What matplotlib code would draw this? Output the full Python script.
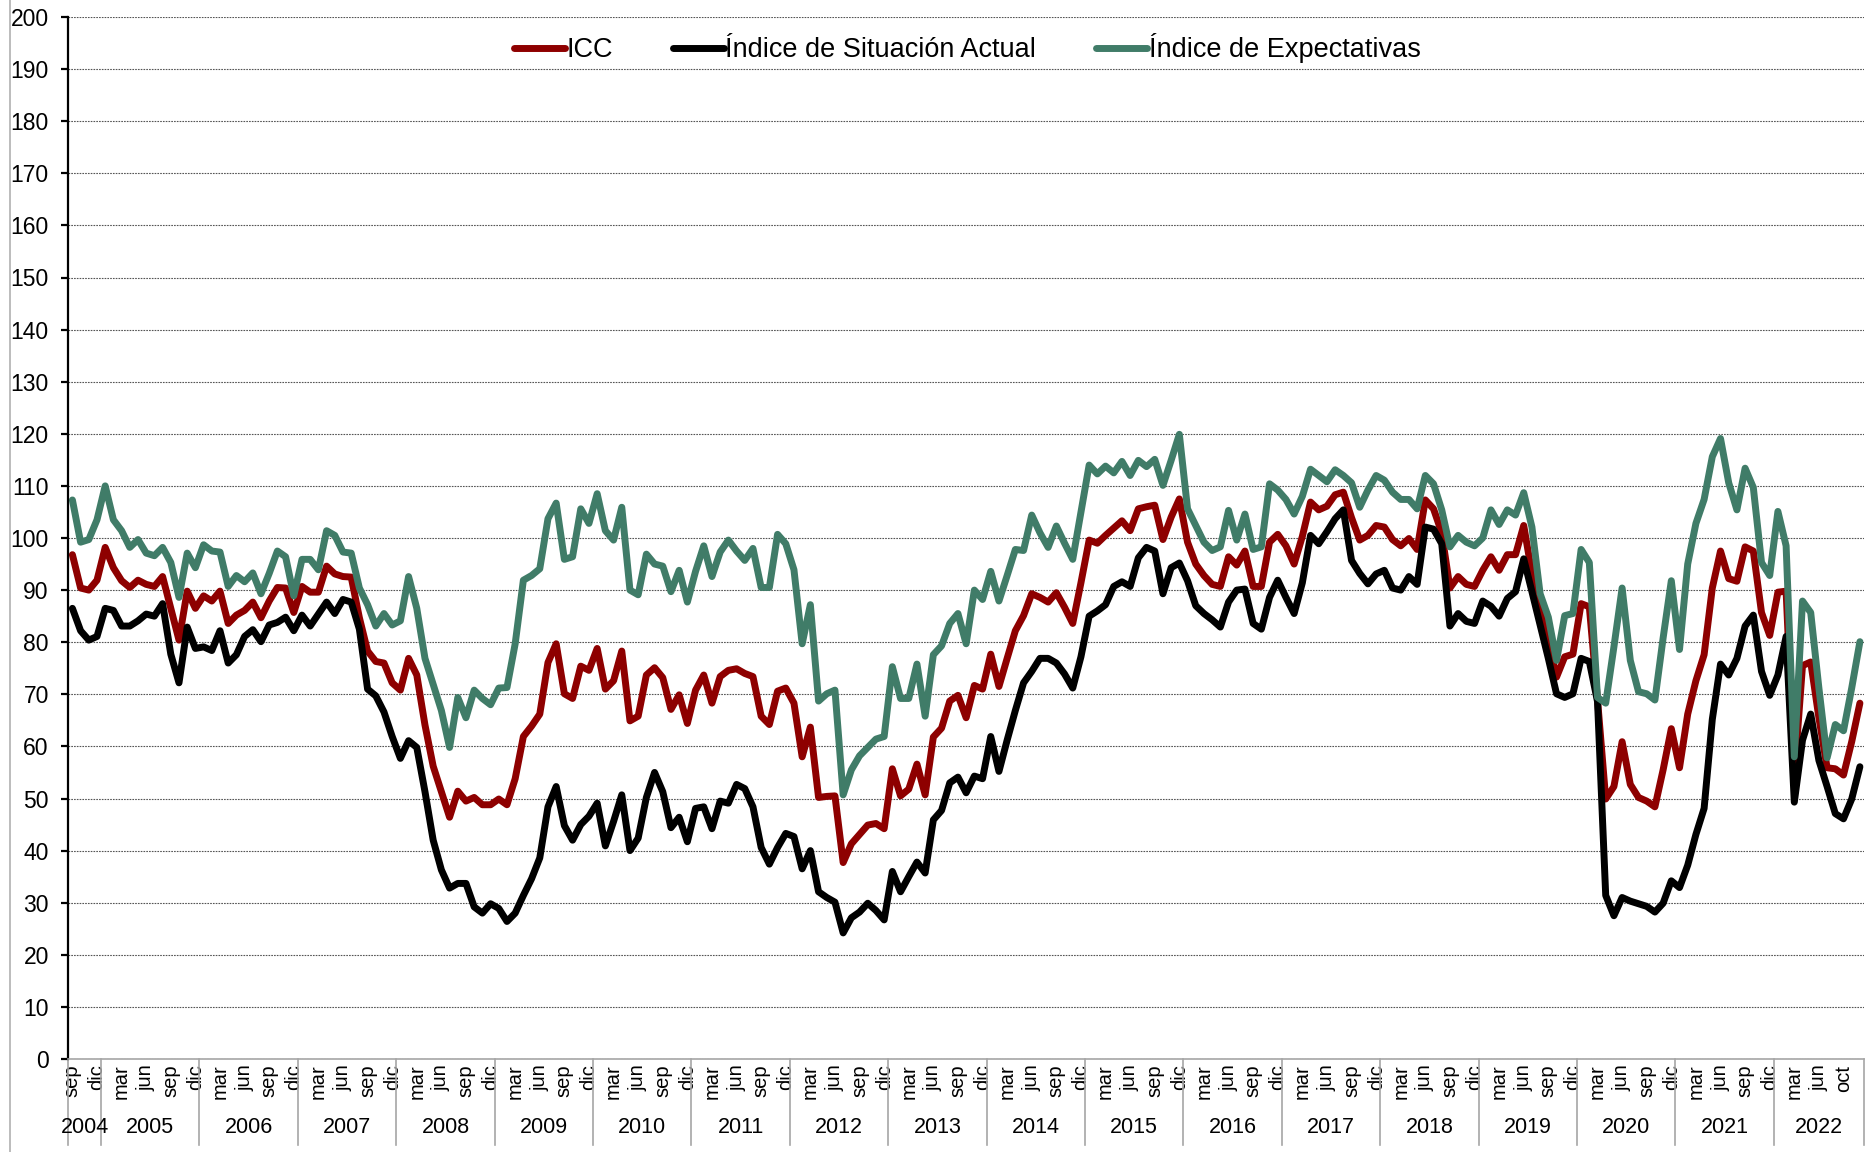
import matplotlib
matplotlib.use("Agg")
import matplotlib.pyplot as plt
import matplotlib.transforms as mtransforms
from matplotlib.lines import Line2D
import numpy as np

# Series mensuales, sep-2004 a nov-2022
icc = [
    96.8, 90.4, 90.0, 91.9, 98.2, 94.3, 91.8, 90.5, 91.9, 91.1, 90.7, 92.6, 86.5, 80.4, 89.8, 86.5,
    88.9, 87.9, 89.8, 83.6, 85.2, 86.1, 87.7, 84.7, 87.9, 90.5, 90.4,
    85.7, 90.7, 89.6, 89.6, 94.6, 93.1, 92.6, 92.5, 84.7, 78.3, 76.3, 76.0, 72.2, 70.8, 76.9, 73.7,
    64.1, 56.2, 51.3, 46.4, 51.4, 49.5, 50.2, 48.8, 48.8, 49.9, 48.8,
    53.8, 61.9, 63.9, 66.2, 76.1, 79.7, 70.1, 69.2, 75.4, 74.6, 78.8, 71.0, 72.6, 78.3, 64.9, 65.8,
    73.7, 75.1, 73.2, 67.1, 69.9, 64.4, 70.8, 73.7, 68.3, 73.4, 74.6, 74.9,
    74.0, 73.4, 65.8, 64.2, 70.6, 71.2, 68.3, 58.0, 63.7, 50.2, 50.4, 50.5, 37.7, 41.3, 43.1, 44.9,
    45.2, 44.2, 55.7, 50.5, 51.8, 56.6, 50.7, 61.8, 63.5, 68.7, 69.8,
    65.5, 71.7, 71.0, 77.7, 71.5, 76.9, 82.2, 85.1, 89.3, 88.6, 87.7, 89.5, 86.7, 83.6, 91.4, 99.6,
    99.0, 100.5, 101.9, 103.3, 101.4, 105.6, 106.0, 106.3, 99.7, 104.0, 107.5,
    99.2, 95.0, 92.8, 91.1, 90.7, 96.4, 94.8, 97.5, 90.7, 90.7, 99.2, 100.7, 98.5, 95.0, 100.3, 106.9,
    105.4, 106.1, 108.3, 108.8, 103.9, 99.6, 100.5, 102.4, 102.1, 99.7, 98.5, 99.9,
    97.8, 107.3, 105.6, 101.0, 90.4, 92.6, 91.1, 90.7, 93.8, 96.4, 93.8, 96.8, 96.8, 102.4, 93.2, 86.8,
    80.4, 73.3, 77.2, 77.7, 87.4, 86.8, 69.0, 49.9, 52.3, 60.9, 52.7,
    50.2, 49.5, 48.4, 55.5, 63.4, 55.9, 66.2, 72.6, 77.6, 90.4, 97.5, 92.2, 91.7, 98.3, 97.5, 85.7,
    81.3, 89.6, 89.8, 54.3, 75.5, 76.2, 65.5, 55.9, 55.7, 54.5, 60.9, 68.3,
]

isa = [
    86.5, 82.2, 80.4, 81.1, 86.5, 86.1, 83.1, 83.1, 84.1, 85.4, 85.0, 87.4, 77.7, 72.2, 82.9, 78.8,
    79.1, 78.4, 82.2, 76.0, 77.6, 81.1, 82.4, 80.1, 83.3, 83.8, 84.8,
    82.2, 85.2, 83.1, 85.4, 87.7, 85.5, 88.2, 87.7, 82.5, 71.0, 69.7, 66.6, 61.9, 57.7, 61.1, 59.8,
    51.3, 42.0, 36.3, 32.8, 33.7, 33.7, 29.2, 28.0, 29.8, 28.9, 26.4,
    28.0, 31.4, 34.6, 38.6, 48.4, 52.3, 44.8, 42.0, 45.0, 46.6, 49.1, 40.9, 45.6, 50.7, 40.0, 42.4,
    50.2, 55.0, 51.3, 44.4, 46.4, 41.7, 48.1, 48.4, 44.2, 49.5, 49.1, 52.7,
    51.9, 48.4, 40.6, 37.4, 40.6, 43.3, 42.7, 36.5, 40.0, 32.1, 31.0, 30.1, 24.2, 27.1, 28.2, 29.9,
    28.5, 26.7, 36.0, 32.1, 35.0, 37.8, 35.7, 45.9, 47.7, 53.0, 54.1,
    51.1, 54.3, 53.8, 61.9, 55.2, 61.2, 66.9, 72.2, 74.4, 76.9, 76.9, 76.0, 73.9, 71.2, 77.2, 85.0,
    86.0, 87.2, 90.7, 91.6, 90.7, 96.2, 98.2, 97.5, 89.3, 94.3, 95.2,
    91.8, 87.0, 85.5, 84.3, 82.9, 87.7, 90.0, 90.2, 83.6, 82.5, 88.6, 91.9, 88.6, 85.5, 91.4, 100.5,
    98.9, 101.2, 103.7, 105.4, 95.7, 93.2, 91.2, 93.1, 93.8, 90.4, 90.0, 92.6,
    91.1, 102.1, 101.7, 98.9, 83.1, 85.5, 84.0, 83.6, 87.9, 86.9, 85.0, 88.4, 89.7, 96.0, 89.7, 83.3,
    76.9, 70.1, 69.4, 70.1, 76.9, 76.3, 68.6, 31.4, 27.5, 31.0, 30.3,
    29.8, 29.3, 28.2, 29.9, 34.2, 32.9, 37.2, 43.1, 48.1, 65.2, 75.8, 73.7, 76.9, 83.1, 85.2, 74.4,
    69.8, 73.7, 81.1, 49.3, 61.2, 66.2, 57.3, 52.3, 47.1, 46.1, 49.9, 56.1,
]

ie = [
    107.3, 99.2, 99.7, 103.5, 110.0, 103.5, 101.4, 98.2, 99.7, 97.1, 96.6, 98.2, 95.3, 88.6, 97.1, 94.3,
    98.7, 97.5, 97.3, 90.7, 92.8, 91.6, 93.3, 89.3, 93.2, 97.5, 96.4,
    88.9, 95.9, 95.9, 93.9, 101.4, 100.5, 97.3, 97.1, 90.4, 87.2, 83.1, 85.5, 83.3, 84.1, 92.6, 86.5,
    76.9, 71.9, 66.9, 59.8, 69.4, 65.5, 70.8, 69.2, 68.0, 71.2, 71.3,
    79.7, 91.9, 92.8, 94.1, 103.7, 106.7, 95.9, 96.4, 105.6, 102.8, 108.5, 101.4, 99.6, 105.9, 90.0, 89.1,
    96.9, 95.0, 94.6, 89.7, 93.8, 87.7, 93.6, 98.5, 92.6, 97.3, 99.6, 97.5,
    95.7, 98.0, 90.5, 90.5, 100.7, 98.9, 93.9, 79.7, 87.2, 68.7, 70.1, 70.8, 50.7, 55.5, 58.2, 59.8,
    61.4, 61.9, 75.3, 69.2, 69.2, 75.8, 65.8, 77.6, 79.3, 83.6, 85.5,
    79.7, 90.0, 88.2, 93.6, 87.9, 92.8, 97.8, 97.6, 104.4, 101.0, 98.2, 102.3, 99.0, 95.9, 104.9, 114.0,
    112.3, 113.8, 112.5, 114.7, 112.0, 114.9, 113.7, 115.1, 110.1, 114.9, 119.9,
    105.6, 102.4, 99.2, 97.6, 98.3, 105.3, 99.6, 104.6, 97.8, 98.3, 110.4, 109.2, 107.4, 104.6, 108.0, 113.2,
    112.0, 110.8, 113.1, 112.0, 110.6, 105.9, 109.2, 112.0, 111.1, 108.8, 107.4, 107.4,
    105.6, 112.0, 110.4, 105.4, 98.3, 100.5, 99.2, 98.5, 100.0, 105.4, 102.6, 105.4, 104.4, 108.7, 102.1, 89.3,
    84.8, 76.5, 85.1, 85.5, 97.8, 95.3, 69.4, 68.3, 79.1, 90.4, 76.5,
    70.5, 70.1, 68.9, 80.8, 91.8, 78.6, 95.0, 102.8, 107.4, 115.6, 119.1, 110.6, 105.4, 113.4, 109.7, 95.3,
    92.8, 105.1, 98.5, 58.0, 87.9, 85.7, 71.2, 57.8, 64.2, 63.0, 71.2, 80.1,
]

meses = ["ene", "feb", "mar", "abr", "may", "jun", "jul", "ago", "sep", "oct", "nov", "dic"]
anio_ini, mes_ini = 2004, 9

n = len(icc)
mes_de = [meses[(mes_ini - 1 + k) % 12] for k in range(n)]
anio_de = [anio_ini + (mes_ini - 1 + k) // 12 for k in range(n)]

# una etiqueta cada 3 meses; la ultima aparece como "oct" en el original
pos_mes = list(range(0, n, 3))
etq_mes = [mes_de[k] for k in pos_mes]
etq_mes[-1] = "oct"

ROJO = "#8E0000"
NEGRO = "#000000"
VERDE = "#407C68"
FUENTE = ["Liberation Sans", "DejaVu Sans"]

W, H = 1876, 1152
fig = plt.figure(figsize=(W / 100, H / 100), dpi=100)
x0, x1, y0, y1 = 68.3, 1864, 17, 1059
ax = fig.add_axes([x0 / W, 1 - y1 / H, (x1 - x0) / W, (y1 - y0) / H])

x = np.arange(n)
estilo = dict(lw=5.0, solid_joinstyle="round", solid_capstyle="round")
ax.plot(x, icc, color=ROJO, label="ICC", **estilo)
ax.plot(x, isa, color=NEGRO, label="Índice de Situación Actual", **estilo)
ax.plot(x, ie, color=VERDE, label="Índice de Expectativas", **estilo)

ax.set_xlim(-0.5, n - 0.5)
ax.set_ylim(0, 200)
ax.set_yticks(range(0, 201, 10))
ax.yaxis.grid(True, linestyle=(0, (1.5, 1)), color="#555555", linewidth=0.8)
ax.set_axisbelow(True)

for s in ["top", "right"]:
    ax.spines[s].set_visible(False)
ax.spines["left"].set_color("black")
ax.spines["left"].set_linewidth(1.6)
ax.spines["bottom"].set_color("#a6a6a6")
ax.spines["bottom"].set_linewidth(1.2)

ax.tick_params(axis="y", direction="out", length=5, width=1.6, color="black",
               pad=9, labelsize=16.5, labelfontfamily="Liberation Sans")
ax.set_xticks(pos_mes)
ax.set_xticklabels(etq_mes, rotation=90, fontsize=14.5, family=FUENTE)
ax.tick_params(axis="x", length=0, pad=4)

# separadores de anio y etiquetas de anio
trans = mtransforms.blended_transform_factory(ax.transData, ax.transAxes)
cortes = [-0.5] + [k - 0.5 for k in range(1, n) if anio_de[k] != anio_de[k - 1]] + [n - 0.5]
for b in cortes:
    ax.plot([b, b], [0, -0.083], transform=trans, color="#a6a6a6", lw=1.2, clip_on=False)
for a in sorted(set(anio_de)):
    idx = [k for k in range(n) if anio_de[k] == a]
    ax.text((idx[0] + idx[-1]) / 2, -0.0655, str(a), transform=trans, ha="center",
            va="center", fontsize=15.5, family=FUENTE)

ax.legend(loc="center", bbox_to_anchor=(0.5005, 0.970), ncol=3, frameon=False,
          prop={"family": FUENTE, "size": 19.5}, handlelength=1.9, handletextpad=0.05,
          columnspacing=2.2)

# borde izquierdo del area del grafico
fig.add_artist(Line2D([10 / W, 10 / W], [0, 1], color="#b0b0b0", lw=1.2))

fig.savefig("out.png", dpi=100)
